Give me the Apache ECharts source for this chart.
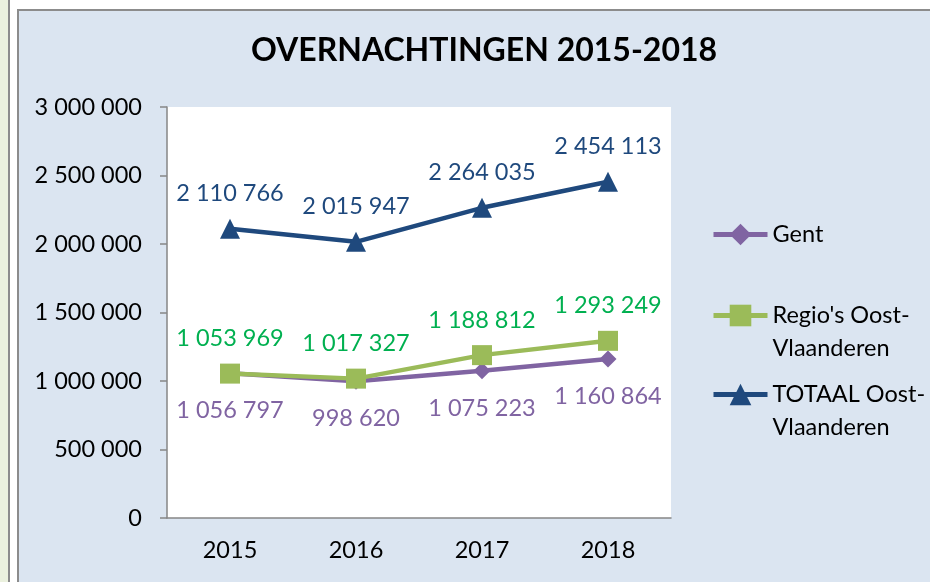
<!DOCTYPE html>
<html>
<head>
<meta charset="utf-8">
<script src="https://cdn.jsdelivr.net/npm/echarts@6/dist/echarts.min.js"></script>
<style>
  html, body { margin: 0; padding: 0; background: #fff; }
  .strip { position: absolute; left: 0; top: 0; width: 8px; height: 582px; background: #ebf1de; border-right: 2px solid #8c8c8c; }
  .panel { position: absolute; left: 17px; top: 9px; width: 930px; height: 600px; background: #dbe5f1; border: 2px solid #8c8c8c; }
  #chart { position: absolute; left: 0; top: 0; width: 930px; height: 582px; }
</style>
</head>
<body>
<div class="strip"></div>
<div class="panel"></div>
<div id="chart"></div>
<script>
// jaren
const years = ['2015', '2016', '2017', '2018']
// overnachtingen per reeks
const gent = [1056797, 998620, 1075223, 1160864]
const regio = [1053969, 1017327, 1188812, 1293249]
const totaal = [2110766, 2015947, 2264035, 2454113]

const font = 'Lato'
const size = 23.5
const fmt = (v) => String(v).replace(/\B(?=(\d{3})+(?!\d))/g, ' ')

const chart = echarts.init(document.getElementById('chart'))

// legenda: icoon staat naast de eerste regel, dus lege regel ervoor
const legendBase = {
  orient: 'vertical',
  left: 711,
  padding: 0,
  itemWidth: 54,
  itemHeight: 27,
  lineStyle: { width: 5 },
  textStyle: { fontFamily: font, fontSize: size, color: '#000', lineHeight: 33 }
}

chart.setOption({
  animation: false,
  title: {
    text: 'OVERNACHTINGEN 2015-2018',
    left: 479,
    textAlign: 'center',
    top: 30,
    textStyle: { fontFamily: font, fontWeight: 'bold', fontSize: 32, color: '#000' }
  },
  legend: [
    Object.assign({}, legendBase, { top: 218, data: ['Gent'] }),
    Object.assign({}, legendBase, {
      top: 266,
      data: ["Regio's Oost-Vlaanderen"],
      formatter: () => " \nRegio's Oost-\nVlaanderen"
    }),
    Object.assign({}, legendBase, {
      top: 345,
      data: ['TOTAAL Oost-Vlaanderen'],
      formatter: () => ' \nTOTAAL Oost-\nVlaanderen'
    })
  ],
  grid: {
    left: 167,
    top: 107,
    width: 504,
    height: 411,
    show: true,
    backgroundColor: '#fff',
    borderWidth: 0
  },
  xAxis: {
    type: 'category',
    data: years,
    axisLine: { lineStyle: { color: '#868686', width: 1.5 } },
    axisTick: { length: 8, lineStyle: { color: '#868686', width: 1.5 } },
    axisLabel: { fontFamily: font, fontSize: size, color: '#000', margin: 20 }
  },
  yAxis: {
    type: 'value',
    min: 0,
    max: 3000000,
    interval: 500000,
    splitLine: { show: false },
    axisLine: { show: true, lineStyle: { color: '#868686', width: 1.5 } },
    axisTick: { show: true, length: 7, lineStyle: { color: '#868686', width: 1.5 } },
    axisLabel: { fontFamily: font, fontSize: size, color: '#000', margin: 25, formatter: fmt }
  },
  series: [
    {
      name: 'Gent',
      type: 'line',
      data: gent,
      symbol: 'diamond',
      symbolSize: 17,
      lineStyle: { color: '#8064a2', width: 4.5 },
      itemStyle: { color: '#8064a2' },
      label: {
        show: true,
        position: 'bottom',
        distance: 17,
        fontFamily: font,
        fontSize: size,
        color: '#8064a2',
        formatter: (p) => fmt(p.value)
      }
    },
    {
      name: "Regio's Oost-Vlaanderen",
      type: 'line',
      data: regio,
      symbol: 'rect',
      symbolSize: 20,
      lineStyle: { color: '#9bbb59', width: 4.5 },
      itemStyle: { color: '#9bbb59' },
      label: {
        show: true,
        position: 'top',
        distance: 13,
        fontFamily: font,
        fontSize: size,
        color: '#00b050',
        formatter: (p) => fmt(p.value)
      }
    },
    {
      name: 'TOTAAL Oost-Vlaanderen',
      type: 'line',
      data: totaal,
      symbol: 'triangle',
      symbolSize: 20,
      lineStyle: { color: '#1f497d', width: 4.5 },
      itemStyle: { color: '#1f497d' },
      label: {
        show: true,
        position: 'top',
        distance: 13,
        fontFamily: font,
        fontSize: size,
        color: '#1f497d',
        formatter: (p) => fmt(p.value)
      }
    }
  ]
})
</script>
</body>
</html>
